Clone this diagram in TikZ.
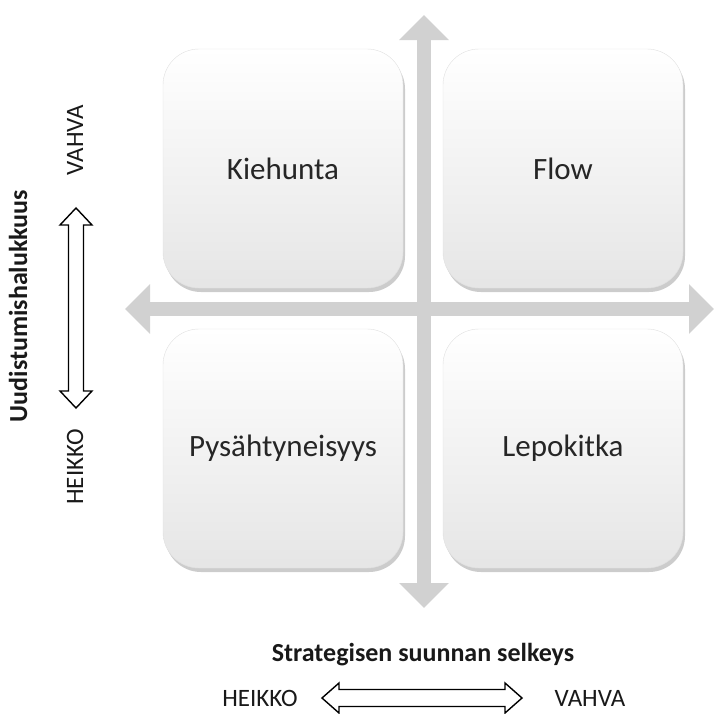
\documentclass[tikz,border=0pt]{standalone}
\usepackage{fontspec}
\setmainfont{Carlito}
\usetikzlibrary{positioning,arrows.meta,shadows}

\begin{document}
\begin{tikzpicture}[%
x=1pt,y=-1pt,%
quad/.style={draw=black!12,rounded corners=36pt,minimum width=240pt,minimum height=239pt,top color=white,middle color=white,bottom color=black!10,drop shadow={shadow xshift=2pt,shadow yshift=-4pt,opacity=0.4},font=\fontsize{31}{36}\selectfont,text=black!85},%
axis/.style={line width=14pt,draw=black!18,{Triangle[width=48pt,length=25pt]}-{Triangle[width=48pt,length=25pt]}},%
hollow/.style={draw=black,line width=1.4pt,fill=white,line join=miter},%
title/.style={font=\bfseries\fontsize{26}{30}\selectfont,text=black!90},%
pole/.style={font=\fontsize{25}{30}\selectfont,text=black!90},%
node distance=280pt,%
  ]
    \useasboundingbox (0,0) rectangle (715,713);

    % axis cross
    \coordinate (ytop) at (424,15);
    \coordinate (ybot) at (424,608);
    \coordinate (xleft) at (125,309);
    \coordinate (xright) at (714,309);
    \draw[axis] (xleft) -- (xright);
    \draw[axis] (ybot) -- (ytop);

    % quadrants
    \node[quad] (kiehunta) at (283,168.5) {Kiehunta};
    \node[quad] (flow) [right of=kiehunta] {Flow};
    \node[quad] (pysah) [below of=kiehunta] {Pysähtyneisyys};
    \node[quad] (lepo) [right of=pysah] {Lepokitka};

    % vertical scale
    \node[title,rotate=90] (uudist) at (18,306) {Uudistumishalukkuus};
    \node[pole,rotate=90] (vvahva) at (75,140) {VAHVA};
    \node[pole,rotate=90] (vheikko) at (75,467) {HEIKKO};
    \draw[hollow] (76,208) -- (92,225) -- (83.5,225) -- (83.5,391) -- (92,391)
      -- (76,408) -- (60,391) -- (68.5,391) -- (68.5,225) -- (60,225) -- cycle;

    % horizontal scale
    \node[title] (strat) at (423,655) {Strategisen suunnan selkeys};
    \node[pole] (hheikko) at (260,698) {HEIKKO};
    \node[pole] (hvahva) at (590,698) {VAHVA};
    \draw[hollow] (322,698) -- (339,683) -- (339,689.5) -- (505,689.5) -- (505,683)
      -- (522,698) -- (505,713) -- (505,706.5) -- (339,706.5) -- (339,713) -- cycle;
\end{tikzpicture}
\end{document}
